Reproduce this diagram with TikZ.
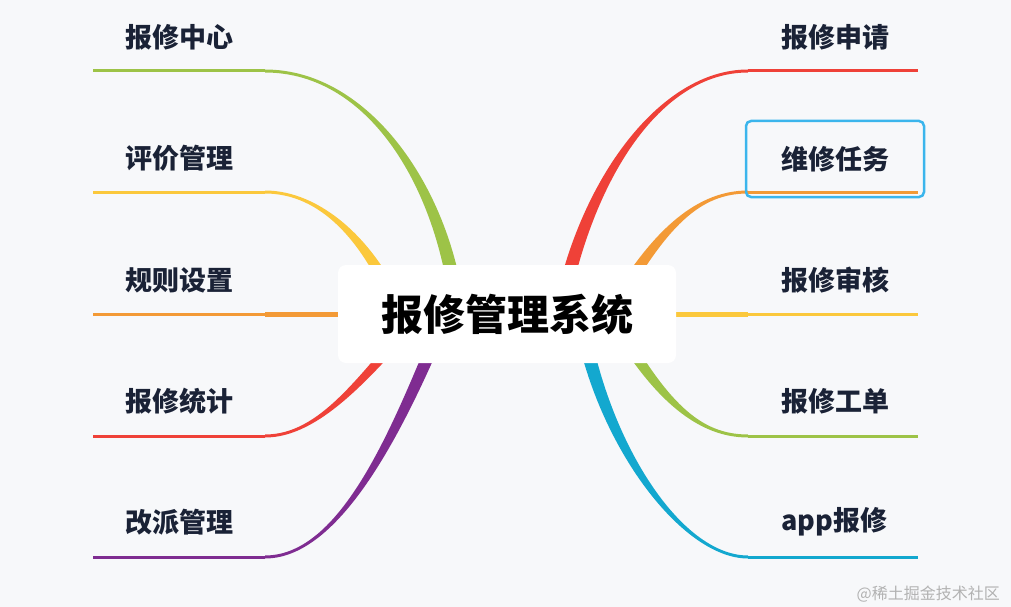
\documentclass[tikz,border=0pt]{standalone}
\usepackage{fontspec}
\newfontfamily\cjk{Noto Sans CJK SC}
\usetikzlibrary{calc}

\definecolor{fond}{HTML}{F7F8FA}
\definecolor{texte}{HTML}{1A2236}
\definecolor{cvert}{HTML}{9DC347}
\definecolor{cjaune}{HTML}{FBC83C}
\definecolor{corange}{HTML}{F39A36}
\definecolor{crouge}{HTML}{EF4138}
\definecolor{cviolet}{HTML}{7F2C91}
\definecolor{ccyan}{HTML}{13A8CF}
\definecolor{cbleu}{HTML}{3BB5EC}

\tikzset{carte/.style = {x=1pt, y=-1pt,
                         feuille/.style = {font=\cjk\bfseries\fontsize{27}{31}\selectfont,
                                           text=texte, anchor=west, inner sep=0pt},
                         racine/.style = {font=\cjk\bfseries\fontsize{42}{48}\selectfont,
                                          fill=white, rounded corners=8pt,
                                          minimum width=338pt, minimum height=98pt},
                         trait/.style = {line width=3pt},
                        }
        }

% #1 couleur, #2 jonction, #3 #4 controles, #5 racine, #6 sens
\newcommand\branche[6]{%
  \fill[#1] ([yshift=1.5pt]#2) .. controls +(#3) and +(#4) .. ([xshift={(#6)*7pt}]#5)
     -- ([xshift={-(#6)*7pt}]#5) .. controls +(#4) and +(#3) .. ([yshift=-1.5pt]#2) -- cycle;}

\begin{document}
\begin{tikzpicture}[carte]
  \fill[fond] (0,0) rectangle (1011,607);
  \useasboundingbox (0,0) rectangle (1011,607);

  \coordinate (jg1) at (265,71);   \coordinate (eg1) at (93,71);   \coordinate (rg1) at (458,314);
  \coordinate (jg2) at (265,192);  \coordinate (eg2) at (93,192);  \coordinate (rg2) at (400,314);
  \coordinate (jg3) at (265,314);  \coordinate (eg3) at (93,314);  \coordinate (rg3) at (450,314);
  \coordinate (jg4) at (265,436);  \coordinate (eg4) at (93,436);  \coordinate (rg4) at (420,314);
  \coordinate (jg5) at (265,557);  \coordinate (eg5) at (93,557);  \coordinate (rg5) at (446,314);
  \coordinate (jd1) at (748,71);   \coordinate (ed1) at (918,71);  \coordinate (rd1) at (560,314);
  \coordinate (jd2) at (748,192);  \coordinate (ed2) at (918,192); \coordinate (rd2) at (610,314);
  \coordinate (jd3) at (748,314);  \coordinate (ed3) at (918,314); \coordinate (rd3) at (560,314);
  \coordinate (jd4) at (748,436);  \coordinate (ed4) at (918,436); \coordinate (rd4) at (610,314);
  \coordinate (jd5) at (748,557);  \coordinate (ed5) at (918,557); \coordinate (rd5) at (580,314);

  \branche{cvert}{jg1}{105,0}{-13,-124}{rg1}{1}
  \branche{cjaune}{jg2}{55,0}{-30,-74}{rg2}{1}
  \branche{crouge}{jg4}{55,0}{-55,62}{rg4}{-1}
  \branche{cviolet}{jg5}{80,0}{-42,100}{rg5}{-1}
  \branche{crouge}{jd1}{-88,0}{25,-134}{rd1}{-1}
  \branche{corange}{jd2}{-48,0}{50,-89}{rd2}{-1}
  \branche{cvert}{jd4}{-48,0}{50,89}{rd4}{1}
  \branche{ccyan}{jd5}{-68,0}{20,126}{rd5}{1}
  \draw[corange, line width=5pt] (jg3) -- (rg3);
  \draw[cjaune, line width=5pt] (jd3) -- (rd3);

  \draw[trait, cvert] (eg1) -- (jg1);
  \draw[trait, cjaune] (eg2) -- (jg2);
  \draw[trait, corange] (eg3) -- (jg3);
  \draw[trait, crouge] (eg4) -- (jg4);
  \draw[trait, cviolet] (eg5) -- (jg5);
  \draw[trait, crouge] (jd1) -- (ed1);
  \draw[trait, corange] (jd2) -- (ed2);
  \draw[trait, cjaune] (jd3) -- (ed3);
  \draw[trait, cvert] (jd4) -- (ed4);
  \draw[trait, ccyan] (jd5) -- (ed5);

  \node[racine] (sys) at (507,314) {报修管理系统};

  \node[feuille] (g1) at (125,37) {报修中心};
  \node[feuille] (g2) at (125,158) {评价管理};
  \node[feuille] (g3) at (125,280) {规则设置};
  \node[feuille] (g4) at (125,401) {报修统计};
  \node[feuille] (g5) at (125,522) {改派管理};
  \node[feuille] (d1) at (781,37) {报修申请};
  \node[feuille, anchor=center, draw=cbleu, line width=2.5pt, rounded corners=5pt,
        minimum width=178pt, minimum height=76pt] (d2) at (835,159) {维修任务};
  \node[feuille] (d3) at (781,280) {报修审核};
  \node[feuille] (d4) at (781,401) {报修工单};
  \node[feuille] (d5) at (781,522) {app报修};

  \node[font=\cjk\fontsize{16}{18}\selectfont, text=black!30, anchor=east, inner sep=0pt]
       (marque) at (1000,594) {@稀土掘金技术社区};
\end{tikzpicture}
\end{document}
